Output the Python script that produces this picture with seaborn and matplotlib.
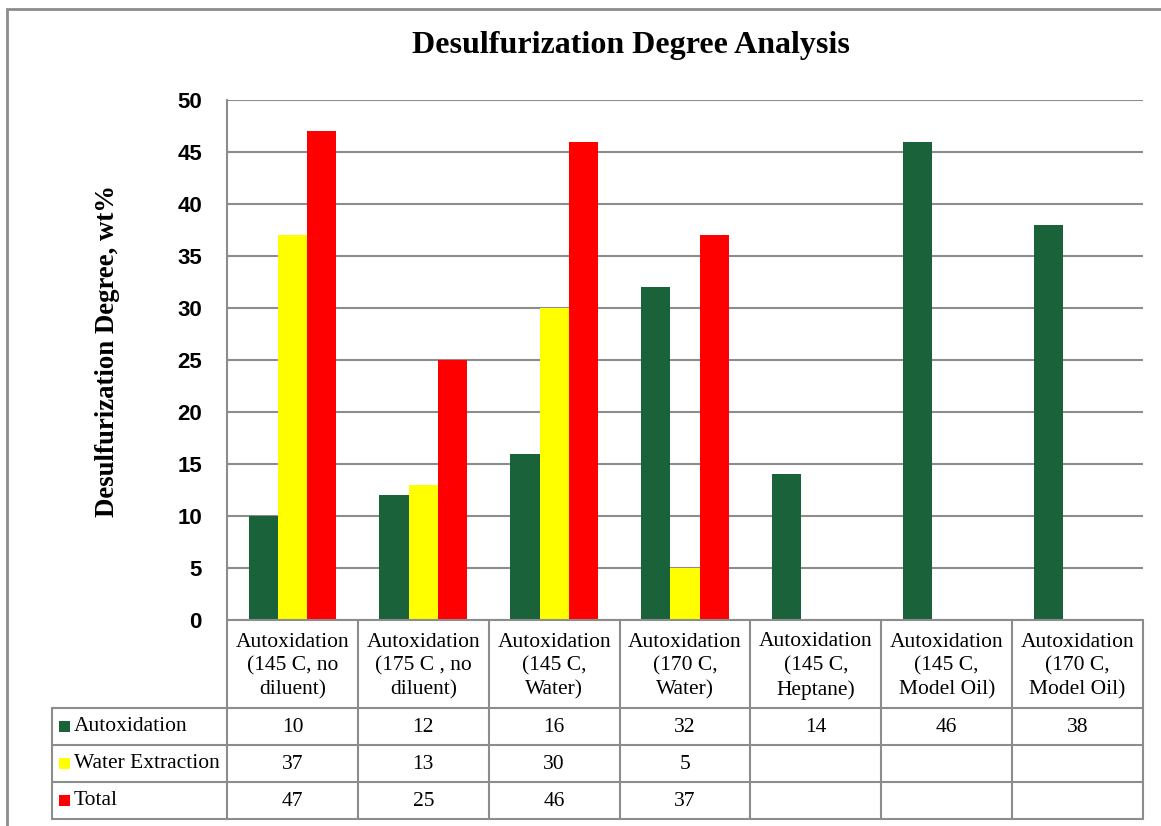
import numpy as np
import pandas as pd
import seaborn as sns
import matplotlib.pyplot as plt
from matplotlib.transforms import blended_transform_factory
from matplotlib.patches import Rectangle
from matplotlib.lines import Line2D

# Desulfurization results per run condition (wt%)
conditions = [
    "Autoxidation\n(145 C, no\ndiluent)",
    "Autoxidation\n(175 C , no\ndiluent)",
    "Autoxidation\n(145 C,\nWater)",
    "Autoxidation\n(170 C,\nWater)",
    "Autoxidation\n(145 C,\nHeptane)",
    "Autoxidation\n(145 C,\nModel Oil)",
    "Autoxidation\n(170 C,\nModel Oil)",
]
series_names = ["Autoxidation", "Water Extraction", "Total"]
autoxidation = [10, 12, 16, 32, 14, 46, 38]
water_extraction = [37, 13, 30, 5, None, None, None]
total = [47, 25, 46, 37, None, None, None]
series_colors = ["#1a623a", "#ffff00", "#ff0000"]
y_ticks = [0, 5, 10, 15, 20, 25, 30, 35, 40, 45, 50]

values_by_series = [autoxidation, water_extraction, total]
rows = []
for name, vals in zip(series_names, values_by_series):
    for cond, v in zip(conditions, vals):
        rows.append({"condition": cond, "series": name,
                     "value": np.nan if v is None else v})
df = pd.DataFrame(rows)

sns.set_theme(style="white")
plt.rcParams.update({"text.color": "black", "axes.labelcolor": "black",
                     "xtick.color": "black", "ytick.color": "black"})
serif = "Liberation Serif"
W, H = 1161, 826
fig = plt.figure(figsize=(W / 100, H / 100), dpi=100)
fig.patch.set_facecolor("white")

left_px, right_px, top_px, bottom_px = 227, 1143, 100, 620
ax = fig.add_axes([left_px / W, 1 - bottom_px / H,
                   (right_px - left_px) / W, (bottom_px - top_px) / H])

sns.barplot(data=df, x="condition", y="value", hue="series",
            order=conditions, hue_order=series_names,
            palette=series_colors, saturation=1, width=0.67,
            linewidth=0, ax=ax, legend=False, zorder=3)

grid_col = "#8c8c8c"
ax.set_xlim(-0.5, len(conditions) - 0.5)
ax.set_ylim(0, 50)
ax.set_yticks(y_ticks)
ax.set_yticklabels([str(t) for t in y_ticks],
                   fontfamily="Liberation Sans", fontweight="bold", fontsize=16)
ax.tick_params(axis="y", length=0, pad=18)
ax.set_xticks([])
ax.set_xlabel("")
ax.set_ylabel("Desulfurization Degree, wt%", fontfamily=serif,
              fontweight="bold", fontsize=19.3, color="black")
ax.yaxis.set_label_coords(-0.117, 0.517)
ax.yaxis.grid(True, color=grid_col, linewidth=1.5, zorder=0)
ax.set_axisbelow(True)
for side in ["top", "right", "bottom"]:
    ax.spines[side].set_visible(False)
ax.spines["left"].set_color(grid_col)
ax.spines["left"].set_linewidth(1.5)

fig.text(0.5 * (413 + 849) / W, 1 - 45 / H, "Desulfurization Degree Analysis",
         fontfamily=serif, fontweight="bold", fontsize=23,
         ha="center", va="center", color="black")

# Data table under the plot: x in data units, y in figure fraction
tr = blended_transform_factory(ax.transData, fig.transFigure)
trf = fig.transFigure

def fy(py):
    return 1 - py / H

header_bot, row_h = 708, 37
row_lines = [header_bot + i * row_h for i in range(4)]
table_bottom = row_lines[-1]
lw = 1.5
n = len(conditions)

# column boundaries
for i in range(n + 1):
    x = i - 0.5
    fig.add_artist(Line2D([x, x], [fy(bottom_px), fy(table_bottom)],
                          transform=tr, color=grid_col, linewidth=lw))
# horizontal lines spanning categories
fig.add_artist(Line2D([-0.5, n - 0.5], [fy(bottom_px), fy(bottom_px)],
                      transform=tr, color=grid_col, linewidth=lw))
for py in row_lines:
    fig.add_artist(Line2D([52 / W, left_px / W], [fy(py), fy(py)],
                          transform=trf, color=grid_col, linewidth=lw))
    fig.add_artist(Line2D([-0.5, n - 0.5], [fy(py), fy(py)],
                          transform=tr, color=grid_col, linewidth=lw))
fig.add_artist(Line2D([52 / W, 52 / W], [fy(header_bot), fy(table_bottom)],
                      transform=trf, color=grid_col, linewidth=lw))

# category headers
for i, cond in enumerate(conditions):
    fig.text(i, fy((bottom_px + header_bot) / 2 + 2), cond, transform=tr,
             fontfamily=serif, fontsize=15.5, ha="center", va="center",
             linespacing=1.33, color="black")

# series rows
for r, (name, vals, col) in enumerate(zip(series_names, values_by_series,
                                          series_colors)):
    cy = (row_lines[r] + row_lines[r + 1]) / 2
    fig.add_artist(Rectangle((59 / W, fy(cy + 5)), 11 / W, 11 / H,
                             transform=trf, facecolor=col, edgecolor="none"))
    fig.text(74 / W, fy(cy), name, transform=trf, fontfamily=serif,
             fontsize=15.5, ha="left", va="center", color="black")
    for i, v in enumerate(vals):
        if v is not None:
            fig.text(i, fy(cy + 1), str(v), transform=tr, fontfamily=serif,
                     fontsize=15.5, ha="center", va="center", color="black")

# outer chart frame
fig.add_artist(Rectangle((7 / W, -0.1), 1.2, fy(9) + 0.1, transform=trf,
                         facecolor="none", edgecolor=grid_col, linewidth=2))

fig.savefig("out.png", dpi=100, facecolor="white")
